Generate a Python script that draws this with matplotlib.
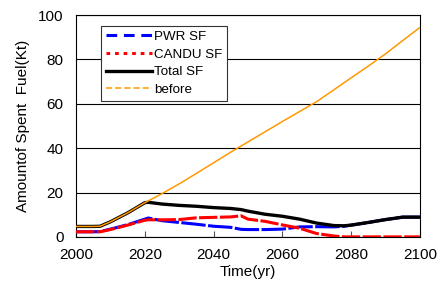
import matplotlib
matplotlib.use("Agg")
import matplotlib.pyplot as plt
from matplotlib.lines import Line2D

plt.rcParams["font.family"] = ["Liberation Sans", "DejaVu Sans"]

# ---------------------------------------------------------------------------
# Data
# ---------------------------------------------------------------------------
years = [2000, 2005, 2007, 2010, 2015, 2020, 2021, 2025, 2030, 2035, 2040,
         2045, 2048, 2050, 2055, 2060, 2065, 2070, 2075, 2078, 2080, 2085,
         2090, 2095, 2100]
pwr_sf = [2.3, 2.3, 2.4, 3.5, 5.5, 8.0, 8.5, 7.3, 6.5, 5.7, 4.8,
          4.3, 3.4, 3.3, 3.3, 3.5, 4.5, 4.6, 4.5, 4.8, 5.3, 6.5,
          7.8, 8.9, 8.9]
candu_sf = [2.3, 2.3, 2.3, 3.3, 5.3, 7.5, 7.7, 7.7, 7.8, 8.6, 8.8,
            9.0, 9.5, 8.0, 7.0, 5.4, 3.9, 1.5, 0.4, 0.0, 0.0, 0.0,
            0.0, 0.0, 0.0]
total_sf = [4.7, 4.7, 4.8, 6.8, 10.8, 15.4, 15.6, 14.8, 14.2, 13.8, 13.2,
            12.8, 12.3, 11.6, 10.2, 9.3, 8.0, 6.2, 5.1, 5.0, 5.3, 6.5,
            7.8, 8.9, 8.9]

years_before = [2000, 2005, 2007, 2010, 2015, 2020, 2025, 2030, 2035, 2040,
                2045, 2050, 2055, 2060, 2065, 2070, 2075, 2080, 2085, 2090,
                2095, 2100]
before = [4.7, 4.7, 4.8, 6.8, 10.8, 15.4, 19.5, 23.9, 28.6, 33.4,
          38.2, 42.8, 47.4, 52.0, 56.5, 61.0, 66.3, 71.7, 77.0, 82.5,
          88.5, 94.4]

COL_PWR = "#0000ff"
COL_CANDU = "#ff0000"
COL_TOTAL = "#000000"
COL_BEFORE = "#ff9900"

fig = plt.figure(figsize=(4.42, 2.95), dpi=100)
ax = fig.add_axes([0.172, 0.197, 0.778, 0.752])

ax.plot(years, pwr_sf, color=COL_PWR, lw=2.2, dashes=(8, 0.8), zorder=3)
ax.plot(years, candu_sf, color=COL_CANDU, lw=2.2, dashes=(6, 0.8), zorder=4)
ax.plot(years, total_sf, color=COL_TOTAL, lw=2.4, zorder=5)
ax.plot(years_before, before, color=COL_BEFORE, lw=1.1, zorder=6)

ax.set_xlim(2000, 2100)
ax.set_ylim(0, 100)
ax.set_xticks(range(2000, 2101, 20))
ax.set_yticks(range(0, 101, 20))
ax.yaxis.grid(True, color="black", lw=0.8)
ax.set_axisbelow(True)
ax.tick_params(axis="x", direction="in", length=4, labelsize=11, pad=8, color="#555555")
ax.tick_params(axis="y", length=0, labelsize=11, pad=9)
for sp in ax.spines.values():
    sp.set_linewidth(0.8)

ax.set_xlabel("Time(yr)", fontsize=11, labelpad=2)
ax.set_ylabel("Amountof Spent  Fuel(Kt)", fontsize=11, labelpad=6)

handles = [
    Line2D([0], [0], color=COL_PWR, lw=2.2, dashes=(3.5, 2.2), label="PWR SF"),
    Line2D([0], [0], color=COL_CANDU, lw=2.2, dashes=(1.2, 1.6), label="CANDU SF"),
    Line2D([0], [0], color=COL_TOTAL, lw=2.4, label="Total SF"),
    Line2D([0], [0], color=COL_BEFORE, lw=1.1, dashes=(4, 2), label="before"),
]
leg = ax.legend(handles=handles, loc="upper left", bbox_to_anchor=(0.073, 0.95),
                fontsize=9.6, handlelength=3.5, handletextpad=0.1,
                labelspacing=0.4, borderpad=0.35, fancybox=False,
                framealpha=1, edgecolor="#333333", borderaxespad=0)
leg.get_frame().set_linewidth(0.8)
leg.set_zorder(10)

fig.savefig("out.png", dpi=100)
